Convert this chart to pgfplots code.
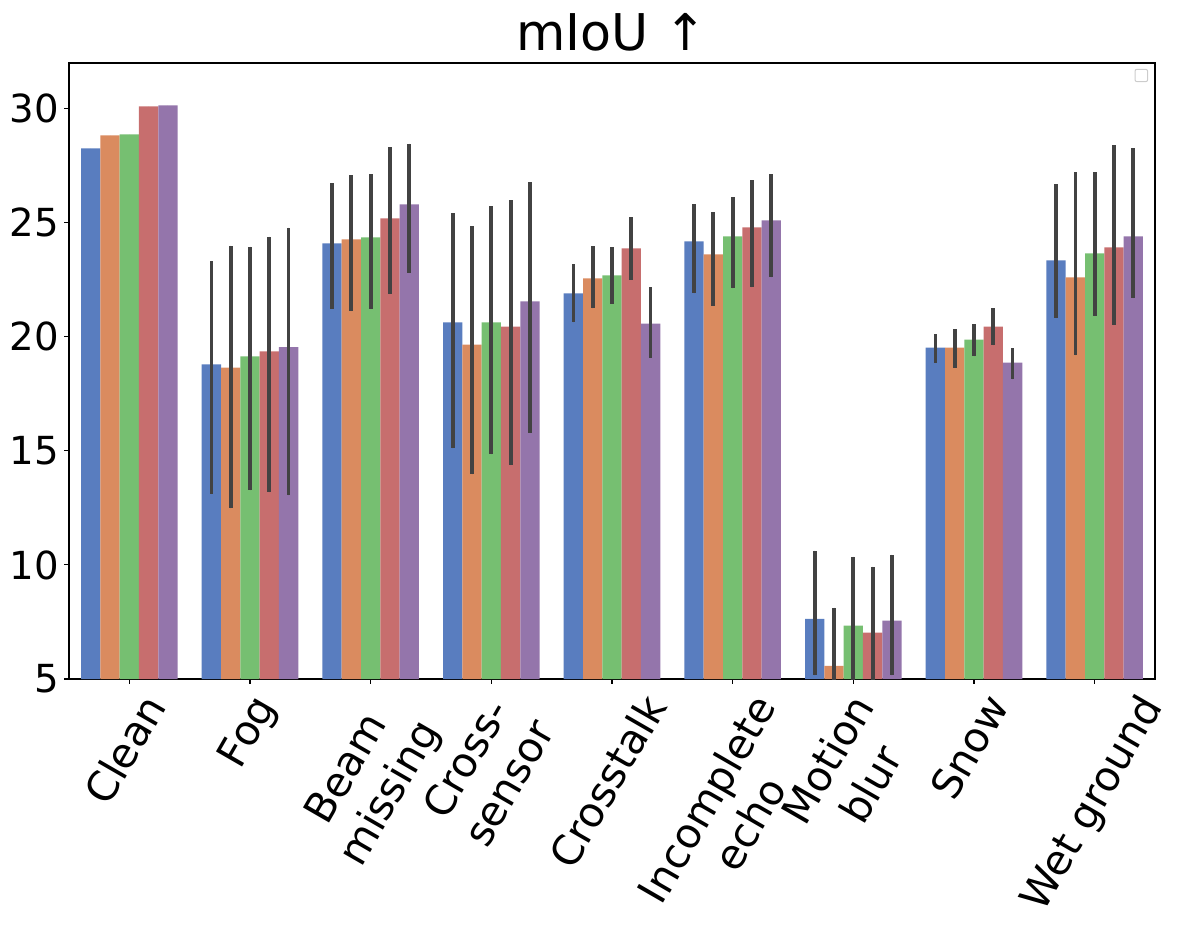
\documentclass[border=0pt]{standalone}
\usepackage{fontspec}
\setmainfont{DejaVu Sans}
\usepackage{pgfplots}
\usepackage{pgfplotstable}
\pgfplotsset{compat=1.18}

\definecolor{cblue}{HTML}{597DBF}
\definecolor{corange}{HTML}{DA8B5F}
\definecolor{cgreen}{HTML}{76BF71}
\definecolor{cred}{HTML}{C76E6E}
\definecolor{cpurple}{HTML}{9475AB}
\definecolor{errgray}{HTML}{424242}

% x = category index, y = bar height, lo/hi = ends of the error bar
\pgfplotstableread{
x y lo hi
0 28.26 28.26 28.26
1 18.79 13.10 23.33
2 24.09 21.23 26.72
3 20.63 15.11 25.41
4 21.90 20.63 23.17
5 24.18 21.90 25.80
6 7.64 5.16 10.63
7 19.53 18.87 20.10
8 23.35 20.82 26.68
}\seriesA
\pgfplotstableread{
x y lo hi
0 28.83 28.83 28.83
1 18.65 12.48 23.99
2 24.27 21.12 27.07
3 19.66 13.97 24.84
4 22.56 21.24 23.96
5 23.61 21.37 25.45
6 5.58 3.00 8.13
7 19.53 18.65 20.32
8 22.60 19.18 27.21
}\seriesB
\pgfplotstableread{
x y lo hi
0 28.87 28.87 28.87
1 19.14 13.27 23.95
2 24.36 21.23 27.12
3 20.63 14.85 25.72
4 22.69 21.43 23.92
5 24.40 22.12 26.11
6 7.34 4.30 10.36
7 19.88 19.14 20.54
8 23.66 20.90 27.21
}\seriesC
\pgfplotstableread{
x y lo hi
0 30.10 30.10 30.10
1 19.36 13.18 24.39
2 25.19 21.87 28.30
3 20.45 14.37 25.98
4 23.87 22.51 25.23
5 24.80 22.16 26.86
6 7.03 4.10 9.93
7 20.45 19.62 21.24
8 23.92 20.51 28.39
}\seriesD
\pgfplotstableread{
x y lo hi
0 30.14 30.14 30.14
1 19.55 13.05 24.78
2 25.80 22.81 28.47
3 21.55 15.80 26.77
4 20.58 19.09 22.16
5 25.10 22.60 27.12
6 7.56 5.16 10.45
7 18.87 18.13 19.49
8 24.40 21.69 28.26
}\seriesE

\newcommand{\rl}[1]{\rotatebox{60}{\begin{tabular}{@{}c@{}}#1\end{tabular}}}

\pgfplotsset{
  hued/.style={
    fill=#1, draw=none,
    error bars/.cd, y dir=both, y explicit, error mark=none,
    error bar style={line width=2.8pt, color=errgray},
  },
}

\begin{document}
\begin{tikzpicture}
\useasboundingbox (-51.75pt,-200.25pt) rectangle (834.75pt,509.25pt);
\begin{axis}[
    scale only axis,
    width=814.5pt, height=462pt,
    xmin=-0.5, xmax=8.5,
    ymin=5, ymax=32,
    ytick={5,10,15,20,25,30},
    xtick={0,1,2,3,4,5,6,7,8},
    xticklabels={\rl{Clean}, \rl{Fog}, \rl{Beam\\missing}, \rl{Cross-\\sensor},
      \rl{Crosstalk}, \rl{Incomplete\\echo}, \rl{Motion\\blur}, \rl{Snow},
      \rl{Wet ground}},
    tick pos=left,
    tick align=outside,
    major tick length=3.6pt,
    every tick/.style={black, line width=0.8pt},
    axis line style={line width=0.8pt},
    /pgf/number format/assume math mode=true,
    yticklabel style={font=\fontsize{29}{34.8}\selectfont, inner sep=0pt, xshift=-3.7pt},
    xticklabel style={font=\fontsize{31}{37.2}\selectfont, inner sep=0pt, anchor=north, yshift=-3.7pt},
    title={mIoU ↑},
    title style={font=\fontsize{38}{45}\selectfont, at={(0.5,1)}, anchor=base, yshift=3.2pt},
    ybar, bar width=0.16, bar shift=0pt,
    clip=true,
]
\addplot[hued=cblue] table[x expr=\thisrow{x}-0.32, y=y,
    y error plus expr=\thisrow{hi}-\thisrow{y},
    y error minus expr=\thisrow{y}-\thisrow{lo}] {\seriesA};
\addplot[hued=corange] table[x expr=\thisrow{x}-0.16, y=y,
    y error plus expr=\thisrow{hi}-\thisrow{y},
    y error minus expr=\thisrow{y}-\thisrow{lo}] {\seriesB};
\addplot[hued=cgreen] table[x expr=\thisrow{x}, y=y,
    y error plus expr=\thisrow{hi}-\thisrow{y},
    y error minus expr=\thisrow{y}-\thisrow{lo}] {\seriesC};
\addplot[hued=cred] table[x expr=\thisrow{x}+0.16, y=y,
    y error plus expr=\thisrow{hi}-\thisrow{y},
    y error minus expr=\thisrow{y}-\thisrow{lo}] {\seriesD};
\addplot[hued=cpurple] table[x expr=\thisrow{x}+0.32, y=y,
    y error plus expr=\thisrow{hi}-\thisrow{y},
    y error minus expr=\thisrow{y}-\thisrow{lo}] {\seriesE};
% empty legend frame, as in the reference
\draw[black!20, line width=0.75pt, rounded corners=1.5pt]
  ([xshift=-15pt, yshift=-4.7pt]rel axis cs:1,1) rectangle ([xshift=-5.5pt, yshift=-14pt]rel axis cs:1,1);
\end{axis}
\end{tikzpicture}
\end{document}
